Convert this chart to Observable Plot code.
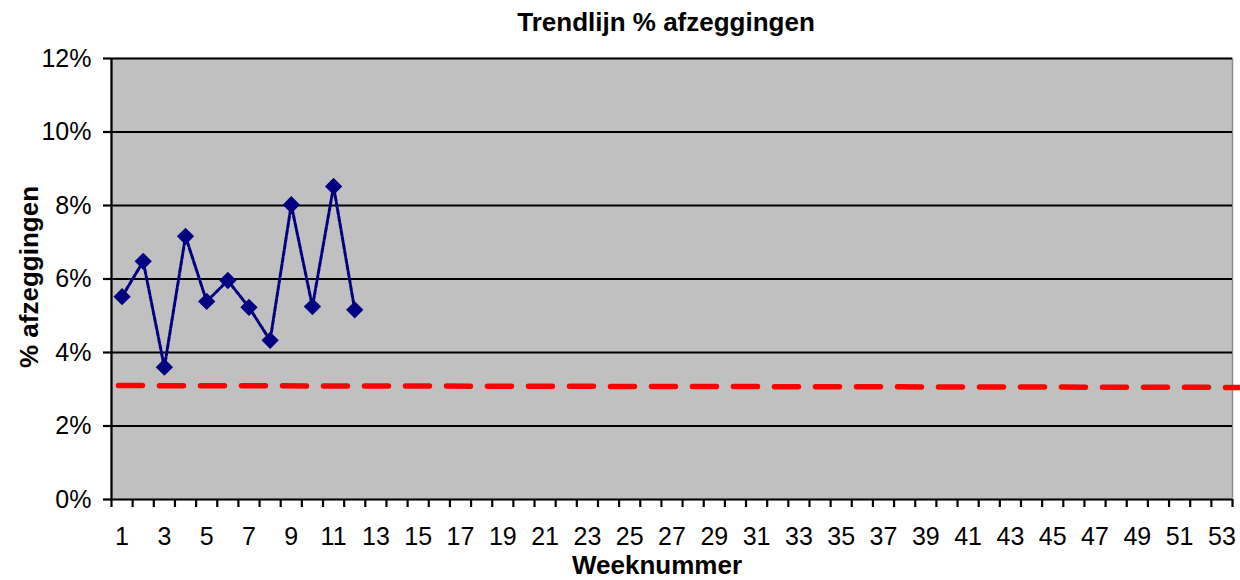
<!DOCTYPE html>
<html>
<head>
<meta charset="utf-8">
<script src="https://cdn.jsdelivr.net/npm/d3@7"></script>
<script src="https://cdn.jsdelivr.net/npm/@observablehq/plot@0.6"></script>
<style>
  html, body { margin: 0; padding: 0; background: #ffffff; }
  #chart svg { display: block; }
</style>
</head>
<body>
<div id="chart"></div>
<script>
// ---- data ----
const title = "Trendlijn % afzeggingen";
const xLabel = "Weeknummer";
const yLabel = "% afzeggingen";
const weeks = [1, 2, 3, 4, 5, 6, 7, 8, 9, 10, 11, 12];
const pctCancelled = [0.0552, 0.0648, 0.0360, 0.0716, 0.0539, 0.0596, 0.0523, 0.0433, 0.0802, 0.0525, 0.0852, 0.0516];
const targetWeeks = [0.83, 53.9];
const targetValues = [0.0310, 0.0305];
const weekLabels = [1,3,5,7,9,11,13,15,17,19,21,23,25,27,29,31,33,35,37,39,41,43,45,47,49,51,53];
const weekBoundaries = d3.range(0.5, 54, 1);
const yTicks = [0, 0.02, 0.04, 0.06, 0.08, 0.10, 0.12];

const series = weeks.map((w, i) => ({week: w, value: pctCancelled[i]}));
const target = targetWeeks.map((w, i) => ({week: w, value: targetValues[i]}));

const font = "'Liberation Sans', Arial, sans-serif";

const chart = Plot.plot({
  width: 1240,
  height: 580,
  marginLeft: 111,
  marginRight: 8,
  marginTop: 58,
  marginBottom: 81,
  style: {fontFamily: font, fontSize: "24px", color: "#000", background: "#fff"},
  x: {domain: [0.5, 53.5], axis: null},
  y: {domain: [0, 0.12], axis: null},
  marks: [
    Plot.frame({fill: "#c0c0c0", stroke: "#8c8c8c", strokeWidth: 1.5}),
    Plot.gridY(yTicks.filter(d => d > 0), {stroke: "#000", strokeOpacity: 1, strokeWidth: 1.8}),
    Plot.ruleX([0.5], {stroke: "#000", strokeWidth: 2.2}),
    Plot.ruleY([0], {stroke: "#000", strokeWidth: 2.2}),
    Plot.axisY(yTicks, {tickSize: 8, tickPadding: 12, tickFormat: d3.format(".0%"), fontSize: 25, strokeWidth: 2.2, label: null}),
    Plot.axisX(weekBoundaries, {tickSize: 8, tickFormat: () => "", strokeWidth: 2.2, label: null}),
    Plot.axisX(weekLabels, {tickSize: 0, tickPadding: 28, fontSize: 25, label: null}),
    Plot.line(target, {x: "week", y: "value", stroke: "#ff0000", strokeWidth: 5.5, strokeDasharray: "24,17", clip: false}),
    Plot.line(series, {x: "week", y: "value", stroke: "#000080", strokeWidth: 3, strokeDasharray: "5,2"}),
    Plot.dot(series, {x: "week", y: "value", symbol: "diamond2", r: 7.8, fill: "#000080", stroke: "none"}),
    Plot.text([title], {frameAnchor: "top", textAnchor: "middle", dx: -6, dy: -36, fontSize: 26, fontWeight: "bold", lineAnchor: "middle"}),
    Plot.text([yLabel], {frameAnchor: "left", textAnchor: "middle", dx: -82, dy: -2, rotate: -90, fontSize: 26, fontWeight: "bold", lineAnchor: "middle"}),
    Plot.text([xLabel], {frameAnchor: "bottom", textAnchor: "middle", dx: -15, dy: 66, fontSize: 26, fontWeight: "bold", lineAnchor: "middle"})
  ]
});
document.getElementById("chart").appendChild(chart);
</script>
</body>
</html>
